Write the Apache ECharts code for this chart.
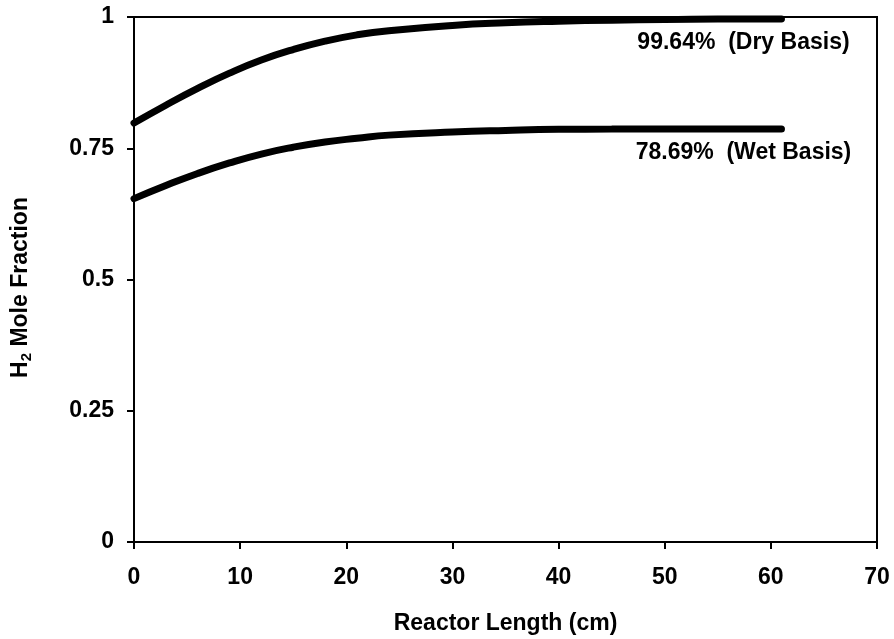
<!DOCTYPE html>
<html>
<head>
<meta charset="utf-8">
<script src="https://cdn.jsdelivr.net/npm/echarts@6/dist/echarts.min.js"></script>
<style>html,body{margin:0;padding:0;background:#fff}#c{width:894px;height:639px}</style>
</head>
<body>
<div id="c"></div>
<script>
var xLength = [0, 3, 6, 9, 12, 15, 18, 21, 24, 30, 35, 40, 45, 50, 55, 61];
var dryBasis = [0.798, 0.832, 0.864, 0.893, 0.918, 0.938, 0.954, 0.966, 0.974, 0.984, 0.989, 0.992, 0.994, 0.995, 0.996, 0.9964];
var wetBasis = [0.654, 0.679, 0.702, 0.722, 0.739, 0.752, 0.762, 0.769, 0.775, 0.781, 0.784, 0.786, 0.7865, 0.7868, 0.7869, 0.7869];
var dryLabel = '99.64%  (Dry Basis)';
var wetLabel = '78.69%  (Wet Basis)';
var xTitle = 'Reactor Length (cm)';

var FONT = "'Liberation Sans', Arial, sans-serif";
function pairs(xs, ys) { return xs.map(function (x, i) { return [x, ys[i]]; }); }
function endMark(xs, ys, text) {
  var n = xs.length - 1;
  return {
    symbol: 'circle', symbolSize: 0, silent: true,
    data: [{ coord: [xs[n], ys[n]], label: {
      show: true, formatter: text, position: 'inside', offset: [-38, 24],
      color: '#000', fontFamily: FONT, fontWeight: 'bold', fontSize: 23
    } }]
  };
}
var chart = echarts.init(document.getElementById('c'), null, { renderer: 'canvas' });
chart.setOption({
  animation: false,
  backgroundColor: '#fff',
  grid: { left: 134, right: 17, top: 17, bottom: 97, containLabel: false, outerBoundsMode: 'none',
    show: true, borderColor: '#000', borderWidth: 2, backgroundColor: 'transparent' },
  xAxis: {
    type: 'value', min: 0, max: 70, interval: 10,
    name: xTitle, nameLocation: 'middle', nameGap: 70,
    nameTextStyle: { color: '#000', fontFamily: FONT, fontWeight: 'bold', fontSize: 23 },
    axisLine: { show: true, lineStyle: { color: '#000', width: 2 } },
    axisTick: { show: true, inside: false, length: 7, lineStyle: { color: '#000', width: 2 } },
    axisLabel: { color: '#000', fontFamily: FONT, fontWeight: 'bold', fontSize: 23, margin: 24 },
    splitLine: { show: false }
  },
  yAxis: {
    type: 'value', min: 0, max: 1, interval: 0.25,
    name: 'H{sub|2} Mole Fraction', nameLocation: 'middle', nameGap: 100,
    nameTextStyle: { color: '#000', fontFamily: FONT, fontWeight: 'bold', fontSize: 23, padding: [0, 16, 0, 0],
      rich: { sub: { fontSize: 15, fontWeight: 'bold', fontFamily: FONT, color: '#000', verticalAlign: 'bottom', padding: [12, 0, 0, 0] } } },
    axisLine: { show: true, lineStyle: { color: '#000', width: 2 } },
    axisTick: { show: true, inside: false, length: 7, lineStyle: { color: '#000', width: 2 } },
    axisLabel: { color: '#000', fontFamily: FONT, fontWeight: 'bold', fontSize: 23, margin: 20 },
    splitLine: { show: false }
  },
  series: [
    { type: 'line', data: pairs(xLength, dryBasis), smooth: true, showSymbol: false,
      lineStyle: { color: '#000', width: 7, cap: 'round' }, markPoint: endMark(xLength, dryBasis, dryLabel) },
    { type: 'line', data: pairs(xLength, wetBasis), smooth: true, showSymbol: false,
      lineStyle: { color: '#000', width: 7, cap: 'round' }, markPoint: endMark(xLength, wetBasis, wetLabel) }
  ]
});
</script>
</body>
</html>
